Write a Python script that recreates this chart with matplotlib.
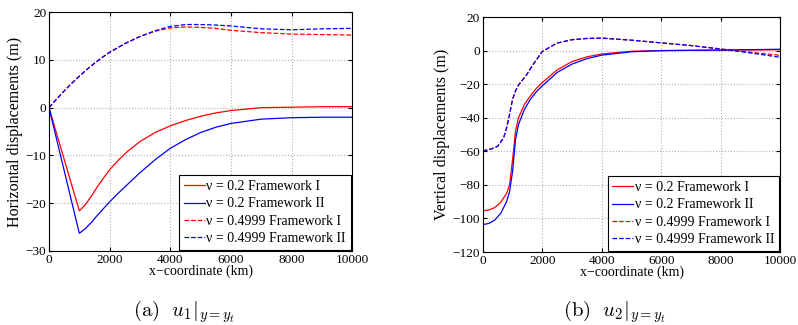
import matplotlib.pyplot as plt

plt.rcParams['font.family'] = ['Liberation Serif', 'DejaVu Serif']
plt.rcParams['mathtext.fontset'] = 'cm'

labels = ['ν = 0.2 Framework I', 'ν = 0.2 Framework II',
          'ν = 0.4999 Framework I', 'ν = 0.4999 Framework II']

# u1 - horizontal displacements
x_sol = [0, 1000, 1200, 1400, 1600, 1800, 2000, 2300, 2600, 3000, 3500, 4000,
         4500, 5000, 5500, 6000, 7000, 8000, 9000, 10000]
u1_red = [0, -21.6, -20.3, -18.5, -16.5, -14.7, -13.0, -10.9, -9.1, -7.1, -5.2,
          -3.8, -2.7, -1.8, -1.1, -0.6, 0.0, 0.1, 0.2, 0.2]
u1_blue = [0, -26.3, -25.3, -24.0, -22.5, -21.1, -19.7, -17.8, -16.0, -13.6, -10.9,
           -8.5, -6.7, -5.2, -4.1, -3.3, -2.4, -2.1, -2.0, -2.0]
x_dash = [0, 250, 500, 750, 1000, 1250, 1500, 1750, 2000, 2500, 3000, 3500, 4000,
          4500, 5000, 5500, 6000, 7000, 8000, 9000, 10000]
u1_red_d = [0, 1.8, 3.5, 5.1, 6.6, 8.0, 9.3, 10.5, 11.6, 13.4, 14.9, 16.0, 16.7,
            16.9, 16.8, 16.6, 16.2, 15.7, 15.4, 15.3, 15.2]
u1_blue_d = [0, 1.8, 3.5, 5.1, 6.6, 8.0, 9.3, 10.5, 11.6, 13.4, 14.9, 16.1, 17.0,
             17.4, 17.4, 17.3, 17.1, 16.5, 16.3, 16.5, 16.6]

# u2 - vertical displacements
x2 = [0, 200, 400, 600, 800, 900, 1000, 1100, 1200, 1400, 1600, 1800, 2000,
      2500, 3000, 3500, 4000, 5000, 6000, 8000, 10000]
u2_red = [-95.5, -95, -93.5, -90.5, -85, -80, -65, -48, -40, -32, -27, -22.5, -19,
          -11.5, -6.5, -3.7, -2, -0.4, 0, 0.3, 0.5]
u2_blue = [-103.7, -103, -101, -97, -90, -84, -72, -53, -44, -35, -29, -24.5, -21,
           -13, -8, -4.8, -2.7, -0.7, 0, 0.3, 0.8]
x2d = [0, 300, 500, 700, 800, 900, 1000, 1100, 1200, 1450, 1700, 2000, 2500, 3000,
       3500, 4000, 5000, 6000, 7000, 8000, 9000, 10000]
u2_red_d = [-59.8, -58.5, -57, -52, -46, -38, -29, -24, -20.5, -15, -8, -0.5, 4.5,
            6.5, 7.3, 7.5, 6.2, 4.6, 3.0, 1.0, -1.0, -2.8]
u2_blue_d = [-59.8, -58.5, -57, -52, -46, -38, -29, -24, -20.5, -15, -8, -0.5, 4.5,
             6.5, 7.2, 7.4, 6.2, 4.6, 3.0, 0.9, -1.4, -4.0]

fig = plt.figure(figsize=(7.98, 3.25), dpi=100)
ax1 = fig.add_axes([0.0614, 0.2277, 0.380, 0.735])
ax2 = fig.add_axes([0.605, 0.2246, 0.373, 0.723])

def style(ax):
    ax.set_xlim(0, 10000)
    ax.set_xticks([0, 2000, 4000, 6000, 8000, 10000])
    ax.grid(True, linestyle=':', color='#b0b0b0', linewidth=0.8)
    ax.tick_params(direction='in', labelsize=9.5, length=3, top=True, right=True, pad=2)
    ax.set_xlabel('x\u2212coordinate (km)', fontsize=10, labelpad=-1)
    for s in ax.spines.values():
        s.set_linewidth(0.8)
    leg = ax.legend(loc='lower right', fontsize=10, fancybox=False, framealpha=1,
                    edgecolor='black', handlelength=1.5, handletextpad=0.1,
                    borderpad=0.35, labelspacing=0.3, borderaxespad=0.1)
    leg.get_frame().set_linewidth(0.8)

ax1.plot(x_sol, u1_red, color='red', lw=0.9, label=labels[0])
ax1.plot(x_sol, u1_blue, color='blue', lw=0.9, label=labels[1])
ax1.plot(x_dash, u1_red_d, color='red', lw=0.9, ls='--', label=labels[2])
ax1.plot(x_dash, u1_blue_d, color='blue', lw=0.9, ls='--', label=labels[3])
ax1.set_ylim(-30, 20)
ax1.set_yticks([-30, -20, -10, 0, 10, 20])
ax1.set_ylabel('Horizontal displacements (m)', fontsize=11.5, labelpad=2)
style(ax1)

ax2.plot(x2, u2_red, color='red', lw=0.9, label=labels[0])
ax2.plot(x2, u2_blue, color='blue', lw=0.9, label=labels[1])
ax2.plot(x2d, u2_red_d, color='red', lw=0.9, ls='--', label=labels[2])
ax2.plot(x2d, u2_blue_d, color='blue', lw=0.9, ls='--', label=labels[3])
ax2.set_ylim(-120, 20)
ax2.set_yticks([-120, -100, -80, -60, -40, -20, 0, 20])
ax2.set_ylabel('Vertical displacements (m)', fontsize=11.5, labelpad=2)
style(ax2)

fig.text(0.1667, 0.025, r'$\mathrm{(a)}\ \ u_1|_{y=y_t}$', ha='left', va='baseline', fontsize=15)
fig.text(0.7055, 0.025, r'$\mathrm{(b)}\ \ u_2|_{y=y_t}$', ha='left', va='baseline', fontsize=15)

fig.savefig('out.png', dpi=100)
